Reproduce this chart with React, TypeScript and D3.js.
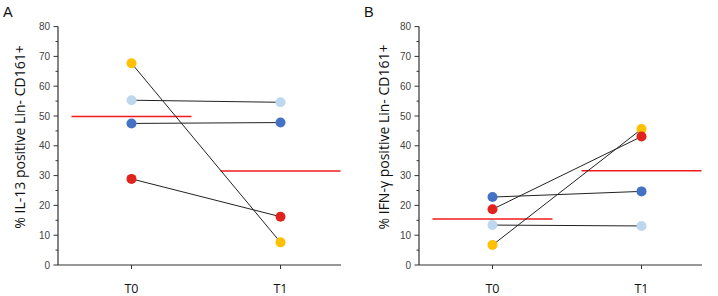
import React from "react";
import * as d3 from "d3";

// Time points
const timePoints = ["T0", "T1"];

// Donor colours (same donor shares a colour in both panels)
const donorColors = ["#FFC000", "#BDD7EE", "#4472C4", "#E0231C"];

// Panel A: % IL-13 positive Lin- CD161+ per donor at T0 and T1
const il13T0 = [67.7, 55.3, 47.5, 28.9];
const il13T1 = [7.6, 54.6, 47.8, 16.2];

// Panel B: % IFN-γ positive Lin- CD161+ per donor at T0 and T1
const ifnT0 = [6.7, 13.4, 22.8, 18.7];
const ifnT1 = [45.6, 13.1, 24.7, 43.1];

const yTicks = [0, 10, 20, 30, 40, 50, 60, 70, 80];
const yMinorTicks = [5, 15, 25, 35, 45, 55, 65, 75];

type PanelProps = {
  letter: string;
  title: string;
  t0: number[];
  t1: number[];
  x0: number; // y-axis position
  titleX: number;
};

const Panel: React.FC<PanelProps> = ({ letter, title, t0, t1, x0, titleX }) => {
  const y = d3.scaleLinear().domain([0, 80]).range([265, 26.6]);
  const x = d3
    .scalePoint<string>()
    .domain(timePoints)
    .range([x0 + 73.5, x0 + 222.5]);
  const axisEnd = x0 + 283;
  const meanHalf = 60;
  const means = [d3.mean(t0) as number, d3.mean(t1) as number];
  const tickFont = "'Liberation Sans', Arial, sans-serif";
  const axisColor = "#333";

  return (
    <g>
      <text
        x={x0 - 55}
        y={17}
        fontFamily={tickFont}
        fontSize={14.5}
        fill="#111"
      >
        {letter}
      </text>

      {/* y axis */}
      <line x1={x0} x2={x0} y1={y(80)} y2={y(0)} stroke={axisColor} strokeWidth={1.2} />
      {yTicks.map((t) => (
        <g key={t}>
          <line x1={x0 - 4.5} x2={x0} y1={y(t)} y2={y(t)} stroke={axisColor} strokeWidth={1} />
          <text
            x={x0 - 8}
            y={y(t)}
            dy="0.35em"
            textAnchor="end"
            fontFamily={tickFont}
            fontSize={10}
            fill="#444"
          >
            {t}
          </text>
        </g>
      ))}
      {yMinorTicks.map((t) => (
        <line key={t} x1={x0 - 2.5} x2={x0} y1={y(t)} y2={y(t)} stroke={axisColor} strokeWidth={1} />
      ))}

      {/* x axis */}
      <line x1={x0} x2={axisEnd} y1={y(0)} y2={y(0)} stroke={axisColor} strokeWidth={1.2} />
      {timePoints.map((tp) => (
        <g key={tp}>
          <line
            x1={x(tp)}
            x2={x(tp)}
            y1={y(0)}
            y2={y(0) + 4}
            stroke={axisColor}
            strokeWidth={1}
          />
          <text
            x={x(tp)}
            y={292.5}
            textAnchor="middle"
            fontFamily="'Open Sans', sans-serif"
            fontSize={12.5}
            fill="#111"
          >
            {tp}
          </text>
        </g>
      ))}

      {/* axis title */}
      <text
        transform={`translate(${titleX},${137}) rotate(-90)`}
        textAnchor="middle"
        fontFamily="'Open Sans', sans-serif"
        fontSize={14}
        fill="#111"
      >
        {title}
      </text>

      {/* mean lines */}
      {timePoints.map((tp, i) => (
        <line
          key={tp}
          x1={(x(tp) as number) - meanHalf}
          x2={(x(tp) as number) + meanHalf}
          y1={y(means[i])}
          y2={y(means[i])}
          stroke="#F21B1B"
          strokeWidth={1.5}
        />
      ))}

      {/* paired connecting lines */}
      {t0.map((v, i) => (
        <line
          key={i}
          x1={x("T0")}
          x2={x("T1")}
          y1={y(v)}
          y2={y(t1[i])}
          stroke="#222"
          strokeWidth={1}
        />
      ))}

      {/* points */}
      {t0.map((v, i) => (
        <g key={i}>
          <circle cx={x("T0")} cy={y(v)} r={5} fill={donorColors[i]} />
          <circle cx={x("T1")} cy={y(t1[i])} r={5} fill={donorColors[i]} />
        </g>
      ))}
    </g>
  );
};

export default function App() {
  return (
    <svg
      width={718}
      height={296}
      style={{ position: "absolute", left: 0, top: 0, background: "#fff" }}
    >
      <rect width={718} height={296} fill="#fff" />
      <Panel
        letter="A"
        title="% IL-13 positive Lin- CD161+"
        t0={il13T0}
        t1={il13T1}
        x0={58}
        titleX={25}
      />
      <Panel
        letter="B"
        title="% IFN-γ positive Lin- CD161+"
        t0={ifnT0}
        t1={ifnT1}
        x0={419}
        titleX={389}
      />
    </svg>
  );
}
